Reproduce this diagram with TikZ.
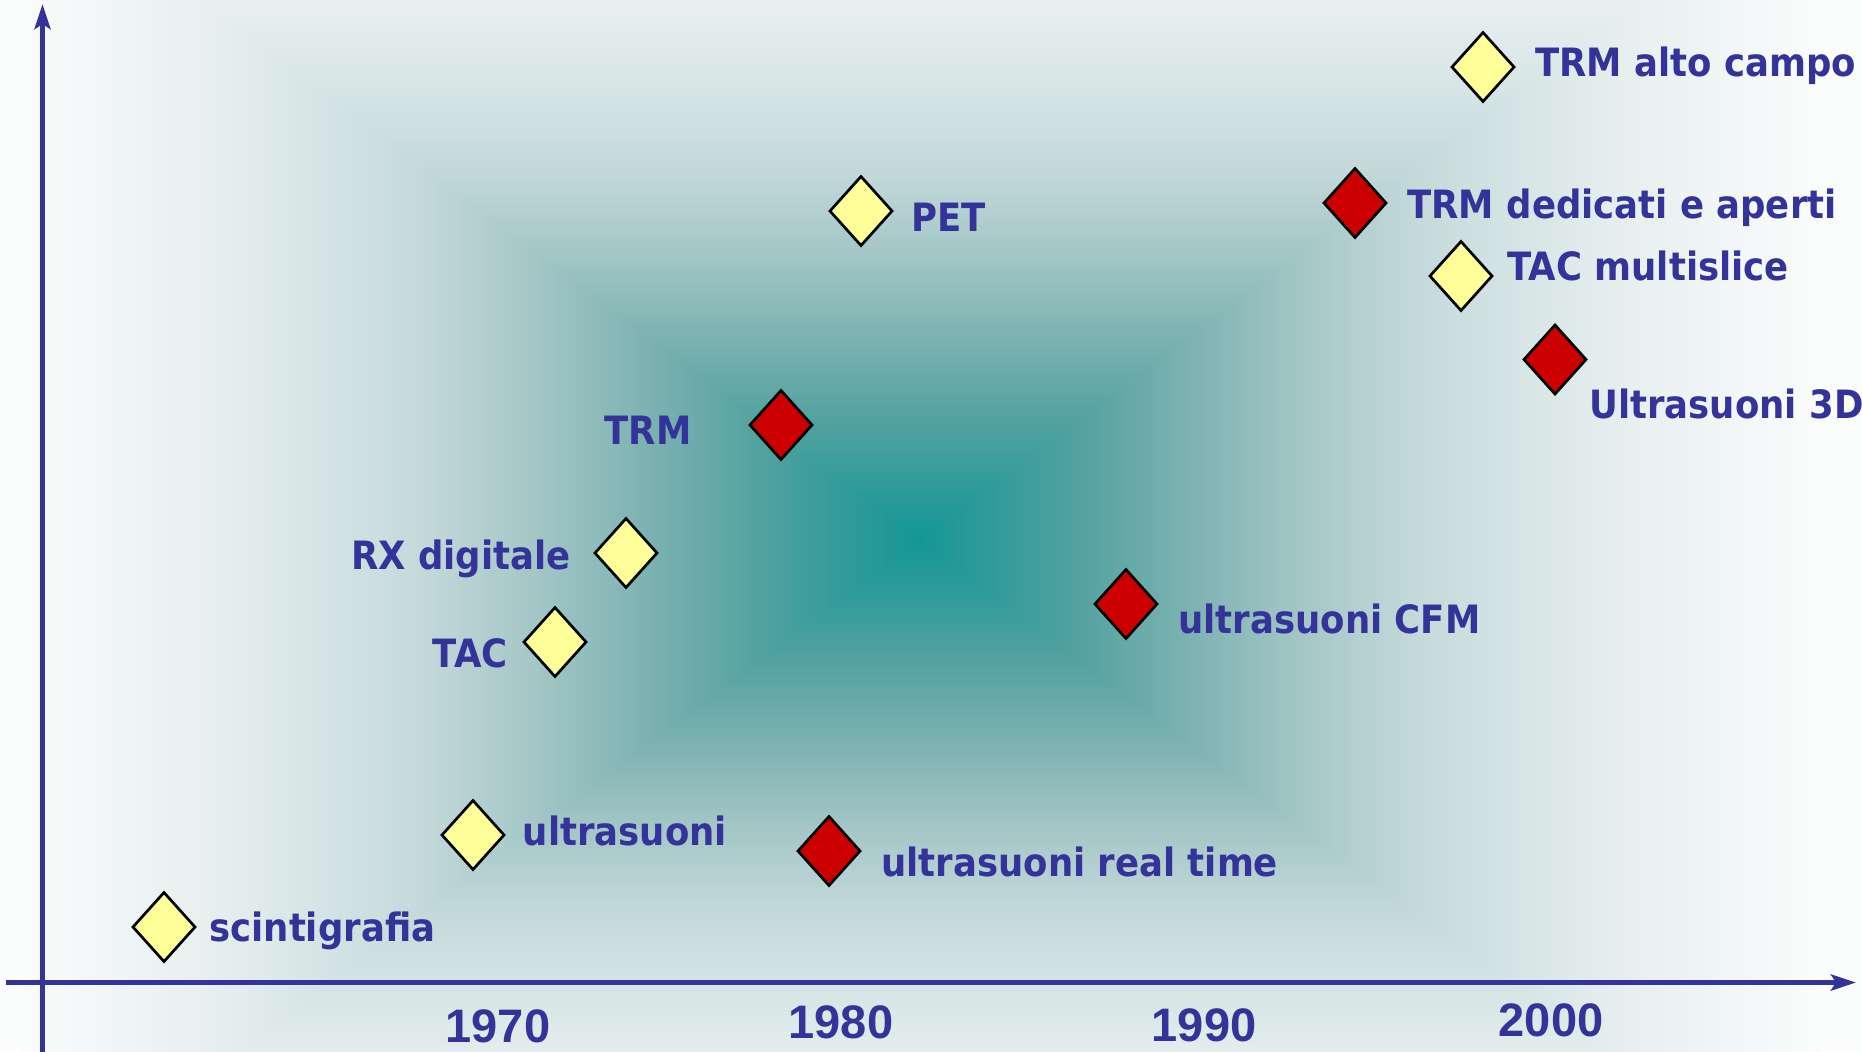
\documentclass[tikz,border=0pt]{standalone}
\usepackage{fontspec}
\setmainfont{DejaVu Sans}
\newfontfamily\lblfont{DejaVu Sans}[FakeStretch=0.91]
\newfontfamily\yrfont{Liberation Sans}
\usetikzlibrary{arrows.meta,shapes.geometric}
\definecolor{axisblue}{RGB}{51,51,153}
\definecolor{dyellow}{RGB}{255,255,153}
\definecolor{dred}{RGB}{204,0,0}
\definecolor{g0}{RGB}{20,150,150}
\definecolor{g17}{RGB}{80,161,159}
\definecolor{g30}{RGB}{124,178,177}
\definecolor{g43}{RGB}{165,199,199}
\definecolor{g56}{RGB}{198,218,219}
\definecolor{g76}{RGB}{228,237,237}
\definecolor{g100}{RGB}{251,252,252}
\pgfdeclareverticalshading{rectshade}{100bp}{color(0bp)=(g0); color(25bp)=(g0); color(33.5bp)=(g17); color(40bp)=(g30); color(46.5bp)=(g43); color(53bp)=(g56); color(63bp)=(g76); color(75bp)=(g100); color(100bp)=(g100)}
\begin{document}
\begin{tikzpicture}[x=0.5pt,y=-0.5pt,
  diam/.style={diamond, draw=black, line width=1.35pt, minimum width=31pt, minimum height=34.5pt, inner sep=0pt, outer sep=0pt},
  ydiam/.style={diam, fill=dyellow},
  rdiam/.style={diam, fill=dred},
  lbl/.style={text=axisblue, font=\lblfont\bfseries\fontsize{19.5pt}{23pt}\selectfont, inner sep=0pt},
  yr/.style={text=axisblue, font=\yrfont\bfseries\fontsize{23.5pt}{28pt}\selectfont, inner sep=0pt},
  axisline/.style={draw=axisblue, line width=2.5pt, -{Stealth[length=12.5pt,width=8pt,inset=2.5pt]}}]
\useasboundingbox (0,0) rectangle (1862,1051);
\clip (0,0) rectangle (1862,1051);
% background rectangular gradient
\fill[g100] (0,0) rectangle (1862,1051);
\shade[shading=rectshade, shading angle=90] (18,-135) rectangle (918,1215);
\shade[shading=rectshade, shading angle=-90] (918,-135) rectangle (1818,1215);
\begin{scope}
  \clip (918,540) -- (18,-135) -- (1818,-135) -- cycle;
  \shade[shading=rectshade, shading angle=0] (18,-135) rectangle (1818,540);
\end{scope}
\begin{scope}
  \clip (918,540) -- (18,1215) -- (1818,1215) -- cycle;
  \shade[shading=rectshade, shading angle=180] (18,540) rectangle (1818,1215);
\end{scope}
% axes
\coordinate (yb) at (42.5,1060);
\coordinate (yt) at (42.5,4);
\coordinate (xl) at (6,982.5);
\coordinate (xr) at (1856,982.5);
\draw[axisline] (yb) -- (yt);
\draw[axisline] (xl) -- (xr);
% years
\node[yr] (y1970) at (498,1026) {1970};
\node[yr] (y1980) at (841,1022) {1980};
\node[yr] (y1990) at (1204,1025) {1990};
\node[yr] (y2000) at (1551,1020) {2000};
% diamonds
\node[ydiam] (d1) at (164,927) {};
\node[ydiam] (d2) at (473,835) {};
\node[ydiam] (d3) at (555,642) {};
\node[ydiam] (d4) at (626,553) {};
\node[rdiam] (d5) at (781,425) {};
\node[ydiam] (d6) at (861,211) {};
\node[rdiam] (d7) at (829,851) {};
\node[rdiam] (d8) at (1126,604) {};
\node[rdiam] (d9) at (1355,203) {};
\node[ydiam] (d10) at (1461,276) {};
\node[rdiam] (d11) at (1555,359.5) {};
\node[ydiam] (d12) at (1483,67) {};
% labels
\node[lbl, anchor=base west] (l1) at (209,941) {scintigrafia};
\node[lbl, anchor=base west] (l2) at (522.5,845) {ultrasuoni};
\node[lbl, anchor=base east] (l3) at (508,667) {TAC};
\node[lbl, anchor=base east] (l4) at (571,569) {RX digitale};
\node[lbl, anchor=base east] (l5) at (692,444) {TRM};
\node[lbl, anchor=base west] (l6) at (911,231) {PET};
\node[lbl, anchor=base west] (l7) at (881,876) {ultrasuoni real time};
\node[lbl, anchor=base west] (l8) at (1178,633) {ultrasuoni CFM};
\node[lbl, anchor=base west] (l9) at (1407,218.3) {TRM dedicati e aperti};
\node[lbl, anchor=base west] (l10) at (1507,280.7) {TAC multislice};
\node[lbl, anchor=base west] (l11) at (1589,418.3) {Ultrasuoni 3D};
\node[lbl, anchor=base west] (l12) at (1535,76.7) {TRM alto campo};
\end{tikzpicture}
\end{document}
